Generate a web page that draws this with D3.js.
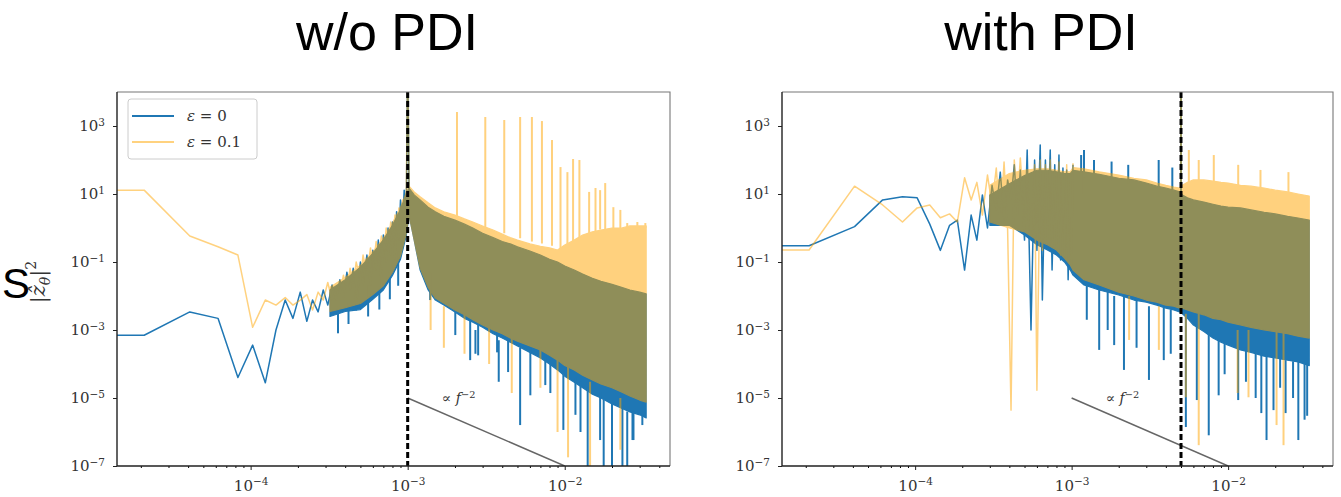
<!DOCTYPE html>
<html>
<head>
<meta charset="utf-8">
<script src="https://cdn.jsdelivr.net/npm/d3@7"></script>
<style>
  body { margin: 0; background: #fff; }
  svg { display: block; }
</style>
</head>
<body>
<svg id="chart" width="1341" height="497"></svg>
<script>
// ---- data ----
const titles = ["w/o PDI", "with PDI"];
const legendLabels = ["ε = 0", "ε = 0.1"];
const xDomain = [1.41e-5, 0.0468];
const yDomain = [1e-7, 1e4];
const xTickValues = [1e-4, 1e-3, 1e-2];
const xMinorTicks = [2e-5, 3e-5, 4e-5, 5e-5, 6e-5, 7e-5, 8e-5, 9e-5,
  2e-4, 3e-4, 4e-4, 5e-4, 6e-4, 7e-4, 8e-4, 9e-4,
  2e-3, 3e-3, 4e-3, 5e-3, 6e-3, 7e-3, 8e-3, 9e-3, 2e-2, 3e-2, 4e-2];
const yTickValues = [1e-7, 1e-5, 1e-3, 1e-1, 1e1, 1e3];
const forcingFreq = [1e-3, 5e-3];
const powerLaw = [[1e-3, 1e-5], [1e-2, 1e-7]];
const powerLawLabel = [1.65e-3, 7e-6];

// w/o PDI: sparse low-frequency part as [f, S]
const woBlueTrace = [
  [1.41e-5, 7e-4], [2.1e-5, 7e-4], [4.1e-5, 3.4e-3], [6.2e-5, 2.2e-3], [8.3e-5, 4e-5],
  [1.03e-4, 3.6e-4], [1.24e-4, 2.8e-5], [1.45e-4, 1e-3], [1.66e-4, 7.6e-3], [1.86e-4, 2.2e-3],
  [2.07e-4, 1.3e-2], [2.28e-4, 1.8e-3], [2.48e-4, 7.6e-3], [2.69e-4, 3.4e-3], [2.9e-4, 1.5e-2],
  [3.1e-4, 5.4e-3], [3.3e-4, 2.1e-2], [3.5e-4, 7.6e-3], [3.7e-4, 3e-2], [3.9e-4, 9e-3],
  [4.1e-4, 5e-2], [4.3e-4, 1.5e-2], [4.5e-4, 6.5e-2], [4.7e-4, 3.9e-3], [5e-4, 0.1],
  [5.2e-4, 2.1e-2], [5.5e-4, 0.16], [5.8e-4, 2.1e-2], [6e-4, 0.22], [6.3e-4, 5.8e-2],
  [6.5e-4, 0.44], [6.8e-4, 1.5e-2], [7e-4, 0.62], [7.3e-4, 0.1], [7.5e-4, 1],
  [7.8e-4, 0.16], [8e-4, 1.5], [8.3e-4, 0.1], [8.5e-4, 3], [8.8e-4, 0.44],
  [9e-4, 6.7], [9.3e-4, 1.2], [9.5e-4, 13], [9.8e-4, 3.4], [1e-3, 1e5], [1.02e-3, 15]
];
const woOrangeTrace = [
  [1.41e-5, 13], [2.1e-5, 13], [4.1e-5, 0.58], [6.2e-5, 0.28], [8.3e-5, 0.16],
  [1.03e-4, 1.2e-3], [1.24e-4, 7.6e-3], [1.45e-4, 5.4e-3], [1.66e-4, 9e-3], [1.86e-4, 5.4e-3],
  [2.07e-4, 7.6e-3], [2.28e-4, 1.1e-2], [2.48e-4, 3.9e-3], [2.69e-4, 1.3e-2], [2.9e-4, 7.6e-3],
  [3.1e-4, 2.5e-2], [3.3e-4, 7.6e-3], [3.5e-4, 2.1e-2], [3.7e-4, 1.1e-2], [3.9e-4, 4.1e-2],
  [4.1e-4, 1.3e-2], [4.3e-4, 6.5e-2], [4.5e-4, 2.1e-2], [4.7e-4, 0.1], [5e-4, 3e-2],
  [5.2e-4, 0.16], [5.5e-4, 4.1e-2], [5.8e-4, 0.26], [6e-4, 5.8e-2], [6.3e-4, 0.4],
  [6.5e-4, 0.1], [6.8e-4, 0.58], [7e-4, 0.13], [7.3e-4, 1], [7.5e-4, 0.22],
  [7.8e-4, 1.5], [8e-4, 0.32], [8.3e-4, 2.4], [8.5e-4, 0.44], [8.8e-4, 3.9],
  [9e-4, 0.87], [9.3e-4, 6.7], [9.5e-4, 1.7], [9.8e-4, 11], [1e-3, 1e5], [1.02e-3, 17]
];
// dense part as [f, upper, lower]
const woBlueBand = [
  [3.2e-4, 0.015, 2.5e-3], [4e-4, 0.03, 3.5e-3], [5e-4, 0.07, 4e-3], [6e-4, 0.18, 8e-3],
  [7e-4, 0.45, 0.015], [8e-4, 1.2, 0.04], [9e-4, 3.5, 0.12], [9.8e-4, 10, 0.6],
  [1.02e-3, 15, 2.4], [1.1e-3, 9.4, 0.44], [1.2e-3, 6.7, 0.058], [1.35e-3, 4.1, 0.015],
  [1.5e-3, 3, 7.6e-3], [1.7e-3, 2.2, 5.4e-3], [2e-3, 1.7, 3.4e-3], [2.3e-3, 1.3, 2.2e-3],
  [2.6e-3, 1, 1.7e-3], [3e-3, 0.7, 1.2e-3], [3.5e-3, 0.52, 7.8e-4], [4e-3, 0.4, 5.8e-4],
  [4.5e-3, 0.34, 4.4e-4], [5e-3, 0.28, 3.4e-4], [6e-3, 0.21, 2.2e-4], [7e-3, 0.16, 1.5e-4],
  [8e-3, 0.12, 1e-4], [9e-3, 0.1, 6.7e-5], [1e-2, 0.076, 4.4e-5], [1.15e-2, 0.058, 2.9e-5],
  [1.3e-2, 0.044, 2e-5], [1.5e-2, 0.033, 1.3e-5], [1.7e-2, 0.027, 1e-5], [2e-2, 0.022, 6.7e-6],
  [2.3e-2, 0.018, 5e-6], [2.6e-2, 0.015, 3.9e-6], [3e-2, 0.013, 3.2e-6], [3.3e-2, 0.0115, 2.6e-6]
];
const woOrangeBand = [
  [3.2e-4, 0.018, 3.5e-3], [4e-4, 0.035, 4.5e-3], [5e-4, 0.08, 6e-3], [6e-4, 0.2, 0.011],
  [7e-4, 0.5, 0.02], [8e-4, 1.4, 0.05], [9e-4, 4, 0.15], [9.8e-4, 11, 0.7],
  [1.02e-3, 17, 2.4], [1.1e-3, 11.5, 0.44], [1.2e-3, 8.3, 0.066], [1.35e-3, 5.5, 0.018],
  [1.5e-3, 3.9, 8.7e-3], [1.7e-3, 3, 6.1e-3], [2e-3, 2.4, 3.9e-3], [2.3e-3, 1.85, 2.8e-3],
  [2.6e-3, 1.5, 2e-3], [3e-3, 1.15, 1.4e-3], [3.5e-3, 0.87, 1e-3], [4e-3, 0.66, 7.8e-4],
  [4.5e-3, 0.52, 5.8e-4], [5e-3, 0.44, 4.7e-4], [6e-3, 0.34, 3.4e-4], [7e-3, 0.29, 2.6e-4],
  [8e-3, 0.26, 1.8e-4], [9e-3, 0.225, 1.3e-4], [1e-2, 0.316, 9e-5], [1.15e-2, 0.44, 6.7e-5],
  [1.3e-2, 0.62, 4.7e-5], [1.5e-2, 0.77, 3.4e-5], [1.7e-2, 0.87, 2.6e-5], [2e-2, 1, 2e-5],
  [2.3e-2, 1, 1.5e-5], [2.6e-2, 1.15, 1.15e-5], [3e-2, 1.15, 8.7e-6], [3.3e-2, 1.15, 7.6e-6]
];
// single spikes as [f, S end, S start]
const woBlueSpikes = [
  [5.2e-3, 1.6e-6, 3e-4], [8.1e-3, 1.4e-5, 1e-4], [9.8e-3, 1.15e-6, 5e-5], [1.26e-2, 1e-6, 3e-5],
  [1.4e-2, 5e-8, 2e-5], [1.77e-2, 5e-8, 1e-5], [2e-2, 5e-8, 7e-6], [2.5e-2, 5e-8, 4e-6],
  [2.7e-2, 5.8e-7, 4e-6], [3.12e-2, 1.6e-6, 3e-6], [2.7e-3, 2e-4, 1e-3], [3.8e-3, 3e-5, 5e-4],
  [1.39e-3, 7.6e-3, 0.05], [2.01e-3, 7.1e-4, 5e-3], [2.5e-3, 1.3e-4, 2e-3], [2.81e-3, 1.8e-4, 1.5e-3],
  [3.71e-3, 2.2e-4, 1e-3], [4.36e-3, 5.8e-5, 6e-4], [6.04e-3, 1.2e-5, 3e-4], [7.52e-3, 2.4e-5, 2e-4],
  [1.17e-2, 3.2e-6, 4e-5], [1.68e-2, 5.8e-7, 1.5e-5], [2.33e-2, 5e-8, 6e-6], [2.74e-2, 5.8e-7, 4e-6],
  [3.6e-4, 8e-4, 5e-3], [4.2e-4, 1.5e-3, 6e-3], [5.6e-4, 2.5e-3, 0.02], [6.6e-4, 4e-3, 0.04],
  [7.7e-4, 8e-3, 0.05], [8.7e-4, 0.02, 0.2]
];
const woOrangeSpikes = [
  [2.06e-3, 2580, 2], [3.12e-3, 1840, 1], [4.12e-3, 1500, 0.7], [5.2e-3, 1840, 0.5],
  [6.18e-3, 1840, 0.4], [7.16e-3, 1400, 0.35], [8.3e-3, 387, 0.3], [9.4e-3, 62, 0.25],
  [1.04e-2, 44, 0.3], [1.13e-2, 107, 0.4], [1.24e-2, 100, 0.5], [1.43e-2, 11.5, 0.7],
  [1.57e-2, 15, 0.8], [1.68e-2, 13, 0.9], [1.81e-2, 21, 0.9], [2.04e-2, 4.1, 1],
  [2.26e-2, 3.4, 1], [2.5e-2, 1.4, 1], [2.9e-2, 1.5, 1], [3.26e-2, 1.4, 1],
  [4.6e-3, 1.4e-5, 1e-3], [1.05e-2, 1.8e-7, 1e-4], [1.45e-2, 5e-8, 3e-5], [2.26e-2, 3e-7, 1e-5],
  [1.4e-3, 1e-3, 0.02], [2.3e-3, 2e-4, 3e-3], [1.7e-3, 3e-4, 5e-3], [3.3e-3, 1e-4, 1.5e-3],
  [7e-3, 2e-5, 3e-4], [9e-3, 1e-6, 1.5e-4]
];

// with PDI
const pdiBlueTrace = [
  [1.41e-5, 0.3], [2.1e-5, 0.3], [4.1e-5, 1.1], [6.2e-5, 6.7], [8.3e-5, 8.3],
  [1.03e-4, 7.7], [1.24e-4, 1.3], [1.45e-4, 0.22], [1.66e-4, 1.2], [1.86e-4, 1.7],
  [2.07e-4, 5.8e-2], [2.28e-4, 2.4], [2.48e-4, 0.44], [2.69e-4, 9.4], [2.9e-4, 1],
  [3.1e-4, 18], [3.3e-4, 3.4], [3.5e-4, 44], [3.7e-4, 1.7], [3.9e-4, 26],
  [4.1e-4, 6.7], [4.3e-4, 72], [4.5e-4, 2.4], [4.7e-4, 51], [5e-4, 0.44],
  [5.2e-4, 197], [5.5e-4, 1e-3], [5.8e-4, 100], [6e-4, 0.22], [6.3e-4, 275],
  [6.5e-4, 7.6e-3], [6.8e-4, 100], [7e-4, 0.44], [7.3e-4, 197], [7.5e-4, 5.8e-2],
  [7.8e-4, 72], [8e-4, 0.22], [8.3e-4, 140], [8.5e-4, 0.115], [8.8e-4, 58],
  [9e-4, 0.16], [9.3e-4, 51], [9.5e-4, 3e-2], [9.8e-4, 36], [1e-3, 0.08], [1.02e-3, 72]
];
const pdiOrangeTrace = [
  [1.41e-5, 0.225], [2.1e-5, 0.225], [4.1e-5, 17], [6.2e-5, 4.75], [8.3e-5, 1.5],
  [1.03e-4, 3.9], [1.24e-4, 4.75], [1.45e-4, 2], [1.66e-4, 2.6], [1.86e-4, 1.5],
  [2.07e-4, 30], [2.28e-4, 6.7], [2.48e-4, 22], [2.69e-4, 2.4], [2.9e-4, 36],
  [3.1e-4, 4.75], [3.3e-4, 58], [3.5e-4, 1.2], [3.7e-4, 87], [3.9e-4, 0.87],
  [4.1e-4, 4.4e-6], [4.3e-4, 100], [4.5e-4, 4.75], [4.7e-4, 115], [5e-4, 1.7],
  [5.2e-4, 51], [5.5e-4, 0.62], [5.8e-4, 72], [6e-4, 1.7e-5], [6.3e-4, 100],
  [6.5e-4, 0.22], [6.8e-4, 72], [7e-4, 1.2], [7.3e-4, 100], [7.5e-4, 0.32],
  [7.8e-4, 51], [8e-4, 0.44], [8.3e-4, 87], [8.5e-4, 0.16], [8.8e-4, 44],
  [9e-4, 0.22], [9.3e-4, 72], [9.5e-4, 0.115], [9.8e-4, 36], [1e-3, 0.22], [1.02e-3, 80]
];
const pdiBlueBand = [
  [3e-4, 9.4, 1.2], [4e-4, 20, 1.2], [5e-4, 35, 0.62], [6e-4, 50, 0.32], [7e-4, 50, 0.225],
  [8e-4, 45, 0.16], [9e-4, 40, 0.1], [9.8e-4, 40, 0.058],
  [1.02e-3, 50, 0.041], [1.2e-3, 45, 0.021], [1.5e-3, 38, 0.015], [2e-3, 29, 0.0107],
  [2.5e-3, 26, 7.6e-3], [3e-3, 21, 6.6e-3], [3.5e-3, 17, 5.4e-3], [4e-3, 15, 4.4e-3],
  [4.5e-3, 13, 3.9e-3], [4.9e-3, 11.5, 3.4e-3], [5.1e-3, 9.4, 3e-3], [5.5e-3, 7.7, 2.2e-3],
  [6e-3, 6.7, 1.4e-3], [7e-3, 5.8, 9e-4], [8e-3, 5, 5.8e-4], [9e-3, 4.4, 4.4e-4],
  [1e-2, 4.1, 3.6e-4], [1.2e-2, 3.9, 2.6e-4], [1.4e-2, 3.4, 2.2e-4], [1.7e-2, 2.9, 1.7e-4],
  [2e-2, 2.6, 1.5e-4], [2.4e-2, 2.2, 1.3e-4], [2.8e-2, 1.97, 1.15e-4], [3.3e-2, 1.7, 9e-5]
];
const pdiOrangeBand = [
  [3e-4, 18, 1.5], [4e-4, 40, 1], [5e-4, 50, 0.77], [6e-4, 55, 0.44], [7e-4, 55, 0.32],
  [8e-4, 50, 0.225], [9e-4, 45, 0.13], [9.8e-4, 45, 0.082],
  [1.02e-3, 60, 0.058], [1.2e-3, 55, 0.03], [1.5e-3, 45, 0.021], [2e-3, 36, 0.013],
  [2.5e-3, 29, 0.01], [3e-3, 26, 7.6e-3], [3.5e-3, 21, 6.6e-3], [4e-3, 18, 5.4e-3],
  [4.5e-3, 16, 5e-3], [4.9e-3, 15, 4.4e-3], [5.1e-3, 18, 4.4e-3], [5.5e-3, 22, 3.9e-3],
  [6e-3, 26, 3.4e-3], [7e-3, 26, 2.8e-3], [8e-3, 24, 2.2e-3], [9e-3, 22, 2e-3],
  [1e-2, 21, 1.7e-3], [1.2e-2, 18, 1.4e-3], [1.4e-2, 17, 1.2e-3], [1.7e-2, 15, 1e-3],
  [2e-2, 13, 9e-4], [2.4e-2, 11.5, 7.8e-4], [2.8e-2, 10, 6.6e-4], [3.3e-2, 8.7, 5.8e-4]
];
const pdiBlueSpikes = [
  [5e-3, 1e5, 10],
  [1.15e-3, 140, 10], [1.39e-3, 100, 10], [1.5e-3, 2.6e-4, 0.02], [1.87e-3, 3.6e-4, 0.01],
  [2.16e-3, 6.7e-5, 0.01], [3.12e-3, 3.4e-5, 5e-3], [3.88e-3, 1.3e-4, 5e-3], [5.37e-3, 1.4e-6, 3e-3],
  [6.31e-3, 8.7e-6, 2e-3], [7.52e-3, 8e-7, 1e-3], [8.7e-3, 1.2e-5, 5e-4], [1.16e-2, 8.7e-6, 3e-4],
  [1.63e-2, 3.6e-6, 2e-4], [1.76e-2, 5.8e-7, 2e-4], [1.95e-2, 4.4e-6, 1.5e-4], [2.33e-2, 3.6e-6, 1.3e-4],
  [2.81e-2, 5.8e-7, 1.2e-4], [3.08e-2, 2.3e-6, 1e-4],
  [1.25e-3, 2e-3, 0.02], [1.7e-3, 1e-3, 0.015], [2.6e-3, 3e-4, 8e-3], [4.3e-3, 2e-4, 4e-3],
  [9.5e-3, 5e-5, 4e-4], [1.3e-2, 3e-5, 3e-4], [1.5e-2, 1e-5, 2e-4], [2.15e-2, 2e-5, 1.5e-4],
  [2.6e-2, 1e-5, 1.2e-4], [3.2e-2, 3e-6, 1e-4],
  [1.2e-3, 197, 30], [2.3e-3, 72, 20], [3.6e-3, 100, 15], [4.4e-3, 60, 12], [1.8e-3, 90, 25]
];
const pdiOrangeSpikes = [
  [5e-3, 1e5, 10],
  [5.37e-3, 1.05e-5, 3e-3], [1.15e-2, 1.4e-5, 1e-3], [1.35e-2, 1.05e-5, 1e-3], [2.04e-2, 1.6e-6, 1e-3],
  [6.49e-3, 4.1e-7, 3e-3], [2.26e-2, 4.1e-7, 1e-3], [2.33e-3, 5.1e-4, 0.01], [3.61e-3, 2.6e-4, 5e-3],
  [5.61e-3, 197, 20], [6.49e-3, 100, 20], [8.1e-3, 140, 20], [1.16e-2, 72, 15],
  [1.61e-2, 51, 15], [2.43e-2, 44, 10]
];

// ---- drawing ----
const BLUE = '#1f77b4', ORANGE = '#ffa500';
const plotTop = 92, plotBottom = 466;
const tickFont = 'DejaVu Serif, serif';
const panels = [
  { x0: 117, x1: 670, titleX: 387, title: titles[0], legend: true,
    blueTrace: woBlueTrace, orangeTrace: woOrangeTrace, blueBand: woBlueBand, orangeBand: woOrangeBand,
    blueSpikes: woBlueSpikes, orangeSpikes: woOrangeSpikes, forcing: forcingFreq[0] },
  { x0: 782, x1: 1333, titleX: 1041, title: titles[1], legend: false,
    blueTrace: pdiBlueTrace, orangeTrace: pdiOrangeTrace, blueBand: pdiBlueBand, orangeBand: pdiOrangeBand,
    blueSpikes: pdiBlueSpikes, orangeSpikes: pdiOrangeSpikes, forcing: forcingFreq[1] }
];

const svg = d3.select('#chart');

function powerLabel(sel, v) {
  const e = Math.round(Math.log10(v));
  sel.text(null);
  sel.append('tspan').text('10');
  sel.append('tspan').attr('dy', '-0.5em').attr('font-size', '0.7em')
    .text(e < 0 ? '\u2212' + (-e) : String(e));
}

panels.forEach((p, i) => {
  const x = d3.scaleLog().domain(xDomain).range([p.x0, p.x1]);
  const y = d3.scaleLog().domain(yDomain).range([plotBottom, plotTop]);
  const g = svg.append('g');

  svg.append('defs').append('clipPath').attr('id', 'clip' + i)
    .append('rect').attr('x', p.x0).attr('y', plotTop).attr('width', p.x1 - p.x0).attr('height', plotBottom - plotTop);

  const line = d3.line().x(d => x(d[0])).y(d => y(d[1]));
  const area = d3.area().x(d => x(d[0])).y0(d => y(d[2])).y1(d => y(d[1]));

  const data = g.append('g').attr('clip-path', `url(#clip${i})`);

  // one layer per series, orange composited at half alpha on top of blue
  [[BLUE, 1, p.blueBand, p.blueTrace, p.blueSpikes], [ORANGE, 0.5, p.orangeBand, p.orangeTrace, p.orangeSpikes]]
    .forEach(([col, op, band, trace, spikes]) => {
      const layer = data.append('g').attr('opacity', op);
      layer.append('path').attr('d', area(band))
        .attr('fill', col).attr('stroke', col).attr('stroke-width', 1.2).attr('stroke-linejoin', 'round');
      layer.append('path').attr('d', line(trace))
        .attr('fill', 'none').attr('stroke', col).attr('stroke-width', 1.5).attr('stroke-linejoin', 'round');
      layer.selectAll('line.spike').data(spikes).join('line')
        .attr('x1', d => x(d[0])).attr('x2', d => x(d[0]))
        .attr('y1', d => y(d[1])).attr('y2', d => y(d[2]))
        .attr('stroke', col).attr('stroke-width', 2);
    });

  // power-law guide
  data.append('path').attr('d', line(powerLaw))
    .attr('stroke', '#666').attr('stroke-width', 1.5).attr('fill', 'none');
  const lbl = g.append('text').attr('x', x(powerLawLabel[0])).attr('y', y(powerLawLabel[1]))
    .attr('font-family', tickFont).attr('font-size', 14).attr('fill', '#333');
  lbl.append('tspan').text('\u221d ');
  lbl.append('tspan').attr('font-style', 'italic').text('f');
  lbl.append('tspan').attr('dy', '-0.5em').attr('font-size', '0.7em').text('\u22122');

  // forcing frequency
  g.append('line').attr('x1', x(p.forcing)).attr('x2', x(p.forcing)).attr('y1', plotTop).attr('y2', plotBottom)
    .attr('stroke', '#000').attr('stroke-width', 3).attr('stroke-dasharray', '6,3');

  // axes
  const xAxis = g.append('g').attr('transform', `translate(0,${plotBottom})`)
    .call(d3.axisBottom(x).tickValues(xTickValues).tickSize(4).tickPadding(10));
  xAxis.selectAll('.tick text').each(function (d) { powerLabel(d3.select(this), d); });
  g.append('g').attr('transform', `translate(0,${plotBottom})`)
    .call(d3.axisBottom(x).tickValues(xMinorTicks).tickSize(2).tickFormat(''))
    .call(a => a.select('.domain').remove());
  const yAxis = g.append('g').attr('transform', `translate(${p.x0},0)`)
    .call(d3.axisLeft(y).tickValues(yTickValues).tickSize(4).tickPadding(8));
  yAxis.selectAll('.tick text').each(function (d) { powerLabel(d3.select(this), d); });
  [xAxis, yAxis].forEach(a => {
    a.select('.domain').remove();
    a.selectAll('.tick line').attr('stroke', '#222');
    a.selectAll('.tick text').attr('font-family', tickFont).attr('font-size', 15).attr('fill', '#333');
  });

  // frame
  g.append('path').attr('d', `M${p.x0},${plotTop}H${p.x1}V${plotBottom}`)
    .attr('fill', 'none').attr('stroke', '#777').attr('stroke-width', 1.1);
  g.append('path').attr('d', `M${p.x0},${plotTop}V${plotBottom}H${p.x1}`)
    .attr('fill', 'none').attr('stroke', '#222').attr('stroke-width', 1.4);

  // title
  svg.append('text').attr('x', p.titleX).attr('y', 50).attr('text-anchor', 'middle')
    .attr('font-family', 'Liberation Sans, Arial, sans-serif').attr('font-size', 52).text(p.title);

  if (p.legend) {
    const lg = g.append('g').attr('transform', `translate(${p.x0 + 11},99)`);
    lg.append('rect').attr('width', 129).attr('height', 60).attr('rx', 3)
      .attr('fill', '#fff').attr('fill-opacity', 0.8).attr('stroke', '#ccc');
    [[BLUE, 1], [ORANGE, 0.5]].forEach(([col, op], k) => {
      const yy = 17 + k * 26;
      lg.append('line').attr('x1', 4).attr('x2', 46).attr('y1', yy).attr('y2', yy)
        .attr('stroke', col).attr('stroke-opacity', op).attr('stroke-width', 2);
      const t = lg.append('text').attr('x', 59).attr('y', yy + 5)
        .attr('font-family', tickFont).attr('font-size', 15).attr('fill', '#333');
      const parts = legendLabels[k].split(' ');
      t.append('tspan').attr('font-style', 'italic').text(parts[0]);
      t.append('tspan').text(' ' + parts.slice(1).join(' '));
    });
  }
});

// y label
svg.append('text').attr('x', 2).attr('y', 298).attr('text-anchor', 'start')
  .attr('font-family', 'Liberation Sans, Arial, sans-serif').attr('font-size', 42).text('S');
const yl = svg.append('text').attr('transform', 'translate(45,282) rotate(-90)').attr('text-anchor', 'middle')
  .attr('font-family', tickFont).attr('font-size', 21).attr('fill', '#333');
yl.append('tspan').text('|');
yl.append('tspan').attr('font-style', 'italic').text('\u1e91');
yl.append('tspan').attr('font-style', 'italic').attr('font-size', 14).attr('dy', 5).text('\u03b8');
yl.append('tspan').attr('dy', -5).text('|');
yl.append('tspan').attr('font-size', 14).attr('dy', -9).text('2');
</script>
</body>
</html>
